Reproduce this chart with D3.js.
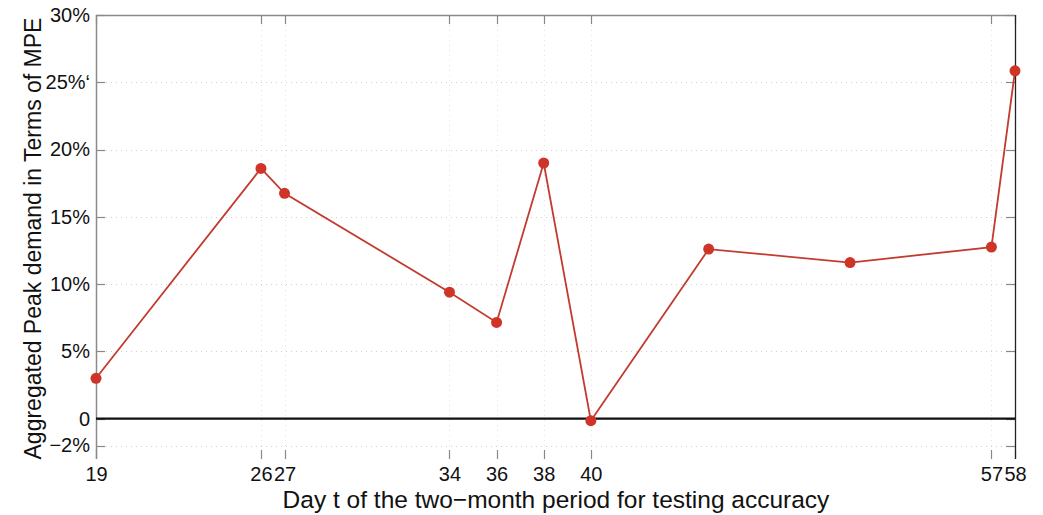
<!DOCTYPE html>
<html>
<head>
<meta charset="utf-8">
<script src="https://cdn.jsdelivr.net/npm/d3@7"></script>
<style>
  html, body { margin: 0; padding: 0; background: #fff; }
  text { font-family: "Liberation Sans", Arial, Helvetica, sans-serif; fill: #111; }
</style>
</head>
<body>
<svg id="chart" width="1043" height="515"></svg>
<script>
// Testing days and the aggregated peak-demand MPE (%) for each one
const days = [19, 26, 27, 34, 36, 38, 40, 45, 51, 57, 58];
const mpe = [3.0, 18.6, 16.75, 9.4, 7.15, 19.0, -0.15, 12.6, 11.6, 12.75, 25.85];

// Axis ticks and labels
const xTicks = [19, 26, 27, 34, 36, 38, 40, 57, 58];
const yTicks = [-2, 0, 5, 10, 15, 20, 25, 30];
const yTickLabels = ["\u22122%", "0", "5%", "10%", "15%", "20%", "25%\u2018", "30%"];

const svg = d3.select("#chart");
const margin = { left: 96, right: 28, top: 15, bottom: 56 };
const W = 1043, H = 515;
const x0 = margin.left, x1 = W - margin.right, y0 = margin.top, y1 = H - margin.bottom;

const x = d3.scaleLinear().domain([19, 58]).range([x0, x1]);
const y = d3.scaleLinear().domain([-3, 30]).range([y1, y0]);

const tickLen = 9;

// faint dotted grid
const grid = svg.append("g").attr("stroke", "#cfcfcf").attr("stroke-width", 1)
  .attr("stroke-dasharray", "1,4");
grid.selectAll("line.h").data(yTicks.filter(v => v !== 0 && v !== 30)).join("line")
  .attr("x1", x0).attr("x2", x1)
  .attr("y1", d => Math.round(y(d)) + 0.5).attr("y2", d => Math.round(y(d)) + 0.5);
grid.selectAll("line.v").data(xTicks.filter(v => v !== 19 && v !== 58)).join("line")
  .attr("stroke", "#e2e2e2")
  .attr("y1", y0).attr("y2", y1)
  .attr("x1", d => Math.round(x(d)) + 0.5).attr("x2", d => Math.round(x(d)) + 0.5);

// axes through d3 axis generators
const yAxisL = svg.append("g").attr("transform", `translate(${x0},0)`)
  .call(d3.axisLeft(y).tickValues(yTicks).tickSize(0).tickPadding(6)
    .tickFormat((d, i) => yTickLabels[i]));
yAxisL.select(".domain").remove();
yAxisL.selectAll("text").attr("font-size", 20).attr("fill", "#111")
  .style("font-family", "Liberation Sans, Arial, sans-serif");

const xAxisB = svg.append("g").attr("transform", `translate(0,${y1})`)
  .call(d3.axisBottom(x).tickValues(xTicks).tickSize(0).tickPadding(8)
    .tickFormat(d3.format("d")));
xAxisB.select(".domain").remove();
xAxisB.selectAll("text").attr("font-size", 20).attr("fill", "#111")
  .style("font-family", "Liberation Sans, Arial, sans-serif");

// inward tick marks on all four sides
const ticks = svg.append("g").attr("stroke", "#888").attr("stroke-width", 1.2);
yTicks.forEach(v => {
  const yy = Math.round(y(v)) + 0.5;
  ticks.append("line").attr("x1", x0).attr("x2", x0 + tickLen).attr("y1", yy).attr("y2", yy);
  ticks.append("line").attr("x1", x1).attr("x2", x1 - tickLen).attr("y1", yy).attr("y2", yy);
});
xTicks.forEach(v => {
  const xx = Math.round(x(v)) + 0.5;
  ticks.append("line").attr("x1", xx).attr("x2", xx).attr("y1", y1).attr("y2", y1 - tickLen);
  ticks.append("line").attr("x1", xx).attr("x2", xx).attr("y1", y0).attr("y2", y0 + tickLen);
});

// frame: top and left in grey, right edge darker
svg.append("line").attr("x1", x0).attr("x2", x1).attr("y1", y0 + 0.5).attr("y2", y0 + 0.5)
  .attr("stroke", "#8a8a8a").attr("stroke-width", 1.5);
svg.append("line").attr("x1", x0 + 0.5).attr("x2", x0 + 0.5).attr("y1", y0).attr("y2", y1)
  .attr("stroke", "#8a8a8a").attr("stroke-width", 1.5);
svg.append("line").attr("x1", x1 + 0.5).attr("x2", x1 + 0.5).attr("y1", y0).attr("y2", y1)
  .attr("stroke", "#222").attr("stroke-width", 1.3);

// zero reference line
svg.append("line").attr("x1", x0).attr("x2", x1).attr("y1", y(0)).attr("y2", y(0))
  .attr("stroke", "#111").attr("stroke-width", 2.2);

// MPE series
const pts = days.map((d, i) => [d, mpe[i]]);
svg.append("path").datum(pts)
  .attr("fill", "none").attr("stroke", "#c23b2e").attr("stroke-width", 1.8)
  .attr("d", d3.line().x(d => x(d[0])).y(d => y(d[1])));
svg.append("g").selectAll("circle").data(pts).join("circle")
  .attr("cx", d => x(d[0])).attr("cy", d => y(d[1])).attr("r", 5.5)
  .attr("fill", "#cf3428");

// axis titles
svg.append("text").attr("x", 556).attr("y", 508)
  .attr("text-anchor", "middle").attr("font-size", 24.5)
  .text("Day t of the two\u2212month period for testing accuracy");
svg.append("text").attr("transform", `translate(41,${(y0 + 462) / 2}) rotate(-90)`)
  .attr("text-anchor", "middle").attr("font-size", 23)
  .text("Aggregated Peak demand in Terms of MPE");
</script>
</body>
</html>
